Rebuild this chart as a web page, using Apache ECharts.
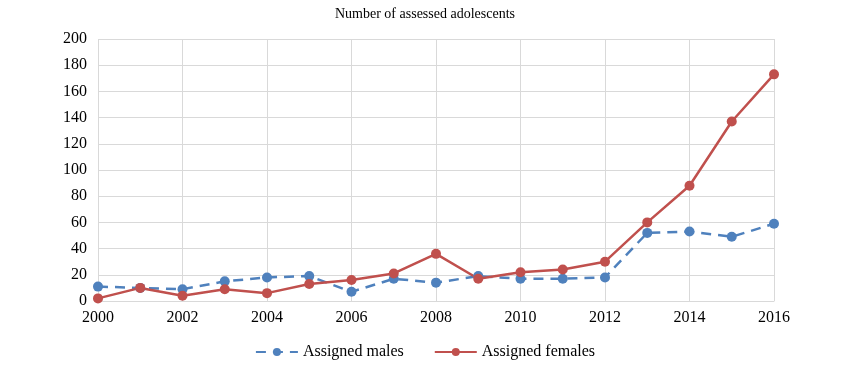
<!DOCTYPE html>
<html><head><meta charset="utf-8">
<script src="https://cdn.jsdelivr.net/npm/echarts@6/dist/echarts.min.js"></script>
<style>html,body{margin:0;padding:0;background:#fff}#c{width:850px;height:365px}</style>
</head><body><div id="c"></div>
<script>
var years = [2000,2001,2002,2003,2004,2005,2006,2007,2008,2009,2010,2011,2012,2013,2014,2015,2016];
var males = [11,10,9,15,18,19,7,17,14,19,17,17,18,52,53,49,59];
var females = [2,10,4,9,6,13,16,21,36,17,22,24,30,60,88,137,173];
var title = 'Number of assessed adolescents';
var seriesNames = ['Assigned males','Assigned females'];

function pairs(v){return years.map(function(y,i){return [y,v[i]];});}
var font = 'Liberation Serif';
var chart = echarts.init(document.getElementById('c'));
chart.setOption({
  animation:false,
  textStyle:{fontFamily:font},
  title:{text:title,left:'center',top:2,textStyle:{fontFamily:font,fontSize:14,fontWeight:'normal',color:'#000'}},
  grid:{left:98,right:76,top:39,bottom:64},
  legend:{bottom:0,left:'center',itemWidth:42,itemHeight:10,itemGap:30,
    textStyle:{fontFamily:font,fontSize:16,color:'#000'},data:seriesNames},
  xAxis:{type:'value',min:2000,max:2016,interval:2,
    axisLine:{lineStyle:{color:'#d9d9d9'}},axisTick:{show:false},
    splitLine:{show:true,lineStyle:{color:'#d9d9d9',width:1}},
    axisLabel:{fontFamily:font,fontSize:16,color:'#000',margin:9,formatter:function(v){return String(v);}}},
  yAxis:{type:'value',min:0,max:200,interval:20,
    axisLine:{show:false},axisTick:{show:false},
    splitLine:{lineStyle:{color:'#d9d9d9',width:1}},
    axisLabel:{fontFamily:font,fontSize:16,color:'#000',margin:11}},
  series:[
    {name:seriesNames[0],type:'line',data:pairs(males),symbol:'circle',symbolSize:10,
     itemStyle:{color:'#4F81BD'},lineStyle:{color:'#4F81BD',width:2.5,type:[10,7]}},
    {name:seriesNames[1],type:'line',data:pairs(females),symbol:'circle',symbolSize:10,
     itemStyle:{color:'#C0504D'},lineStyle:{color:'#C0504D',width:2.5}}
  ]
});
</script></body></html>
